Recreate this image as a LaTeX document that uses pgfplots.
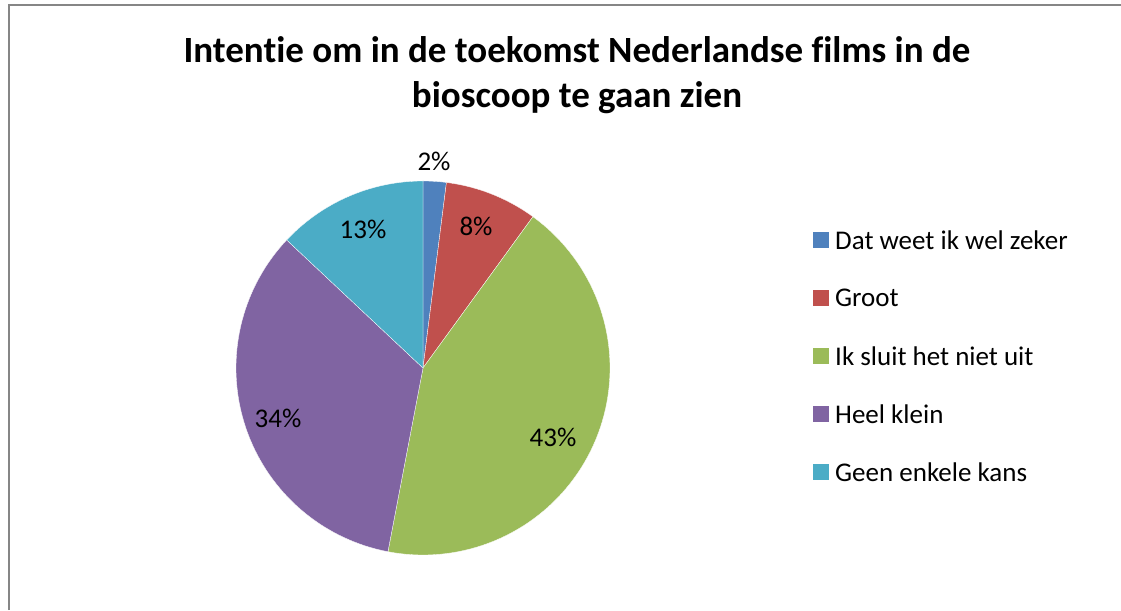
\documentclass[border=0pt]{standalone}
\usepackage{fontspec}
\setmainfont{Carlito}[Ligatures=NoCommon]
\usepackage{pgfplots}
\pgfplotsset{compat=1.18}
\definecolor{cBlue}{HTML}{4F81BD}
\definecolor{cRed}{HTML}{C0504D}
\definecolor{cGreen}{HTML}{9BBB59}
\definecolor{cPurple}{HTML}{8064A2}
\definecolor{cCyan}{HTML}{4BACC6}
\definecolor{cBorder}{HTML}{868686}
% pie centre and radius (axis units = pt)
\def\cx{423}
\def\cy{242}
\def\rr{187}
\begin{document}
\begin{tikzpicture}
\begin{axis}[
  scale only axis, width=1121pt, height=610pt,
  xmin=0, xmax=1121, ymin=0, ymax=610,
  hide axis, clip=false,
]
\fill[white] (axis cs:0,0) rectangle (axis cs:1121,610);
\draw[cBorder, line width=2pt] (axis cs:8.5,0) -- (axis cs:8.5,604.5) -- (axis cs:1121,604.5);
% slices: values 2, 8, 43, 34, 13 (percent), clockwise from the top
\addplot[fill=cBlue, draw=white, line width=0.3pt, domain={90-3.6*2}:90, samples=10, variable=\t]
  ({\cx+\rr*cos(\t)},{\cy+\rr*sin(\t)}) -- (axis cs:\cx,\cy) -- cycle;
\addplot[fill=cRed, draw=white, line width=0.3pt, domain={90-3.6*10}:{90-3.6*2}, samples=20, variable=\t]
  ({\cx+\rr*cos(\t)},{\cy+\rr*sin(\t)}) -- (axis cs:\cx,\cy) -- cycle;
\addplot[fill=cGreen, draw=white, line width=0.3pt, domain={90-3.6*53}:{90-3.6*10}, samples=80, variable=\t]
  ({\cx+\rr*cos(\t)},{\cy+\rr*sin(\t)}) -- (axis cs:\cx,\cy) -- cycle;
\addplot[fill=cPurple, draw=white, line width=0.3pt, domain={90-3.6*87}:{90-3.6*53}, samples=70, variable=\t]
  ({\cx+\rr*cos(\t)},{\cy+\rr*sin(\t)}) -- (axis cs:\cx,\cy) -- cycle;
\addplot[fill=cCyan, draw=white, line width=0.3pt, domain={90-3.6*100}:{90-3.6*87}, samples=30, variable=\t]
  ({\cx+\rr*cos(\t)},{\cy+\rr*sin(\t)}) -- (axis cs:\cx,\cy) -- cycle;
% data labels
\begin{scope}[every node/.style={font=\fontsize{27}{32}\selectfont, inner sep=0pt}]
\node at (axis cs:434,449) {2\%};
\node at (axis cs:476,384) {8\%};
\node at (axis cs:553,173) {43\%};
\node at (axis cs:278,192) {34\%};
\node at (axis cs:363,381) {13\%};
\end{scope}
% title
\node[font=\bfseries\fontsize{37}{45}\selectfont, align=center, anchor=base] at (axis cs:577,502) {Intentie om in de toekomst Nederlandse films in de\\bioscoop te gaan zien};
% legend
\begin{scope}[every node/.style={font=\fontsize{27}{32}\selectfont, anchor=west, inner sep=0pt}]
\fill[cBlue]   (axis cs:813,362) rectangle (axis cs:829,378);
\node at (axis cs:835,370) {Dat weet ik wel zeker};
\fill[cRed]    (axis cs:813,304) rectangle (axis cs:829,320);
\node at (axis cs:835,312) {Groot};
\fill[cGreen]  (axis cs:813,246) rectangle (axis cs:829,262);
\node at (axis cs:835,254) {Ik sluit het niet uit};
\fill[cPurple] (axis cs:813,188) rectangle (axis cs:829,204);
\node at (axis cs:835,196) {Heel klein};
\fill[cCyan]   (axis cs:813,130) rectangle (axis cs:829,146);
\node at (axis cs:835,138) {Geen enkele kans};
\end{scope}
\end{axis}
\pgfresetboundingbox
\path (0,0) rectangle (1121pt,610pt);
\end{tikzpicture}
\end{document}
